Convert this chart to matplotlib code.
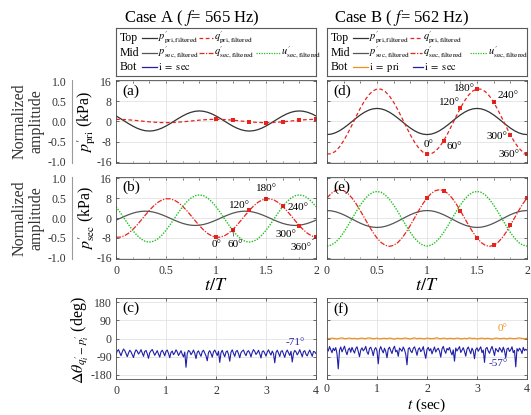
import numpy as np
import matplotlib
matplotlib.use("Agg")
import matplotlib.pyplot as plt

plt.rcParams.update({
    "font.family": "Liberation Serif",
    "mathtext.fontset": "stix",
    "axes.unicode_minus": False,
    "font.size": 8.5,
})

# ---- phase-resolved signals (kPa / scaled u'), t/T = 0..2 in steps of 1/24 ----
t_cyc = np.linspace(0, 2, 49)

p_pri_A = [2.2, 1.24, 0.2, -0.84, -1.8, -2.63, -3.26, -3.66, -3.8, -3.66, -3.26, -2.63,
           -1.8, -0.84, 0.2, 1.24, 2.2, 3.03, 3.66, 4.06, 4.2, 4.06, 3.66, 3.03,
           2.2, 1.24, 0.2, -0.84, -1.8, -2.63, -3.26, -3.66, -3.8, -3.66, -3.26, -2.63,
           -1.8, -0.84, 0.2, 1.24, 2.2, 3.03, 3.66, 4.06, 4.2, 4.06, 3.66, 3.03, 2.2]
q_pri_A = [0.85, 0.83, 0.76, 0.66, 0.53, 0.37, 0.2, 0.03, -0.13, -0.26, -0.36, -0.43,
           -0.45, -0.43, -0.36, -0.26, -0.13, 0.03, 0.2, 0.37, 0.53, 0.66, 0.76, 0.83,
           0.85, 0.83, 0.76, 0.66, 0.53, 0.37, 0.2, 0.03, -0.13, -0.26, -0.36, -0.43,
           -0.45, -0.43, -0.36, -0.26, -0.13, 0.03, 0.2, 0.37, 0.53, 0.66, 0.76, 0.83, 0.85]
p_sec_A = [-0.87, -0.12, 0.63, 1.32, 1.92, 2.37, 2.66,
           2.76, 2.66, 2.37, 1.92, 1.32, 0.63, -0.12, -0.87, -1.56, -2.16, -2.61, -2.9,
           -3.0, -2.9, -2.61, -2.16, -1.56, -0.87, -0.12, 0.63, 1.32, 1.92, 2.37, 2.66,
           2.76, 2.66, 2.37, 1.92, 1.32, 0.63, -0.12, -0.87, -1.56, -2.16, -2.61, -2.9,
           -3.0, -2.9, -2.61, -2.16, -1.56, -0.87]
q_sec_A = [-7.74, -7.72, -7.18, -6.15, -4.69, -2.92, -0.95, 1.09, 3.05, 4.8, 6.23, 7.23,
           7.74, 7.72, 7.18, 6.15, 4.69, 2.92, 0.95, -1.09, -3.05, -4.8, -6.23, -7.23,
           -7.74, -7.72, -7.18, -6.15, -4.69, -2.92, -0.95, 1.09, 3.05, 4.8, 6.23, 7.23,
           7.74, 7.72, 7.18, 6.15, 4.69, 2.92, 0.95, -1.09, -3.05, -4.8, -6.23, -7.23, -7.74]
u_sec_A = [4.55, 2.26, -0.2, -2.66, -4.95, -6.92, -8.43, -9.38, -9.7, -9.38, -8.43, -6.92,
           -4.95, -2.66, -0.2, 2.26, 4.55, 6.52, 8.03, 8.98,
           9.3, 8.98, 8.03, 6.52, 4.55, 2.26, -0.2, -2.66, -4.95, -6.92, -8.43, -9.38,
           -9.7, -9.38, -8.43, -6.92, -4.95, -2.66, -0.2, 2.26, 4.55, 6.52, 8.03, 8.98,
           9.3, 8.98, 8.03, 6.52, 4.55]

p_pri_B = [-5.2, -5.02, -4.5, -3.68, -2.6, -1.35, 0, 1.35, 2.6, 3.68, 4.5, 5.02,
           5.2, 5.02, 4.5, 3.68, 2.6, 1.35, 0, -1.35, -2.6, -3.68, -4.5, -5.02,
           -5.2, -5.02, -4.5, -3.68, -2.6, -1.35, 0, 1.35, 2.6, 3.68, 4.5, 5.02,
           5.2, 5.02, 4.5, 3.68, 2.6, 1.35, 0, -1.35, -2.6, -3.68, -4.5, -5.02, -5.2]
q_pri_B = [-12.93, -12.84, -11.88, -10.1, -7.64, -4.66, -1.36, 2.03, 5.29, 8.18, 10.52, 12.14,
           12.93, 12.84, 11.88, 10.1, 7.64, 4.66, 1.36, -2.03, -5.29, -8.18, -10.52, -12.14,
           -12.93, -12.84, -11.88, -10.1, -7.64, -4.66, -1.36, 2.03, 5.29, 8.18, 10.52, 12.14,
           12.93, 12.84, 11.88, 10.1, 7.64, 4.66, 1.36, -2.03, -5.29, -8.18, -10.52, -12.14, -12.93]
p_sec_B = [3.0, 2.88, 2.54, 2.0, 1.3, 0.48, -0.4, -1.28, -2.1, -2.8, -3.34, -3.68,
           -3.8, -3.68, -3.34, -2.8, -2.1, -1.28, -0.4, 0.48, 1.3, 2.0, 2.54, 2.88,
           3.0, 2.88, 2.54, 2.0, 1.3, 0.48, -0.4, -1.28, -2.1, -2.8, -3.34, -3.68,
           -3.8, -3.68, -3.34, -2.8, -2.1, -1.28, -0.4, 0.48, 1.3, 2.0, 2.54, 2.88, 3.0]
q_sec_B = [8.06, 9.87, 11.01,
           11.4, 11.01, 9.87, 8.06, 5.7, 2.95, 0, -2.95, -5.7, -8.06, -9.87, -11.01,
           -11.4, -11.01, -9.87, -8.06, -5.7, -2.95, 0, 2.95, 5.7, 8.06, 9.87, 11.01,
           11.4, 11.01, 9.87, 8.06, 5.7, 2.95, 0, -2.95, -5.7, -8.06, -9.87, -11.01,
           -11.4, -11.01, -9.87, -8.06, -5.7, -2.95, 0, 2.95, 5.7, 8.06]
u_sec_B = [-11.3, -10.93, -9.83, -8.08, -5.8, -3.15, -0.3, 2.55, 5.2, 7.48, 9.23, 10.33,
           10.7, 10.33, 9.23, 7.48, 5.2, 2.55, -0.3, -3.15, -5.8, -8.08, -9.83, -10.93,
           -11.3, -10.93, -9.83, -8.08, -5.8, -3.15, -0.3, 2.55, 5.2, 7.48, 9.23, 10.33,
           10.7, 10.33, 9.23, 7.48, 5.2, 2.55, -0.3, -3.15, -5.8, -8.08, -9.83, -10.93, -11.3]

marker_idx = list(range(24, 49, 4))  # 0..360 deg over the second cycle
angle_labels = ["0°", "60°", "120°", "180°", "240°", "300°", "360°"]

# ---- phase difference time series (deg), t = 0..4 s ----
t_sec = np.linspace(0, 4, 161)
dtheta_sec_A = [-78, -62, -55, -70, -85, -66, -52, -60, -74, -90,
                -72, -58, -66, -80, -94, -70, -56, -63, -77, -68,
                -55, -72, -88, -64, -59, -75, -98, -70, -61, -54,
                -68, -83, -72, -60, -77, -92, -66, -58, -70, -86,
                -63, -57, -74, -95, -69, -62, -80, -71, -56, -66,
                -84, -73, -60, -78, -91, -67, -142, -75, -59, -64,
                -80, -70, -57, -73, -99, -68, -61, -76, -88, -65,
                -58, -72, -86, -110, -69, -60, -74, -92, -66, -57,
                -71, -84, -63, -118, -70, -58, -76, -90, -67, -61,
                -79, -112, -68, -56, -73, -88, -64, -59, -75, -95,
                -70, -62, -57, -74, -85, -66, -60, -72, -91, -68,
                -55, -64, -79, -70, -58, -76, -96, -65, -61, -73,
                -87, -67, -56, -70, -82, -62, -75, -120, -69, -58,
                -72, -89, -64, -60, -77, -93, -68, -57, -71, -84,
                -63, -116, -74, -59, -66, -81, -70, -55, -73, -90,
                -65, -60, -78, -86, -69, -57, -72, -88, -64, -66, -75]
dtheta_sec_B = [-50, -62, -40, -55, -70, -48, -60, -45, -75, -150,
                -58, -42, -66, -52, -38, -63, -80, -55, -47, -68,
                -44, -59, -72, -50, -41, -64, -90, -57, -46, -61,
                -53, -39, -67, -78, -49, -43, -60, -85, -54, -45,
                -62, -125, -56, -40, -58, -71, -48, -64, -95, -52,
                -43, -60, -74, -50, -38, -66, -58, -88, -47, -55,
                -63, -42, -56, -78, -130, -51, -45, -62, -70, -49,
                -41, -59, -83, -53, -46, -65, -57, -40, -72, -98,
                -54, -44, -61, -50, -76, -58, -42, -67, -55, -48,
                -63, -92, -52, -39, -60, -73, -49, -57, -44, -66,
                -81, -56, -112, -47, -62, -51, -40, -69, -58, -45,
                -64, -87, -53, -42, -59, -75, -48, -61, -100, -55,
                -46, -63, -52, -41, -70, -57, -118, -50, -44, -62,
                -73, -54, -39, -60, -84, -49, -58, -66, -45, -55,
                -68, -43, -61, -95, -52, -47, -64, -56, -41, -70,
                -59, -140, -50, -62, -48, -57, -74, -44, -60, -53, -58]
t_pri = np.linspace(0, 4, 81)
dtheta_pri_B = [1, -1, 2, 0, -2, 1, 3, -1, 0, 2,
                -1, 1, -2, 0, 2, -1, 1, 3, 0, -1,
                2, -2, 0, 1, -1, 2, 0, -3, 1, 0,
                -1, 2, 1, -2, 0, 3, -1, 1, 0, -2,
                2, 0, -1, 1, 3, -1, 0, 2, -2, 1,
                0, -1, 2, 0, -2, 1, -1, 3, 0, 1,
                -2, 0, 2, -1, 1, 0, -3, 1, 2, -1,
                0, 1, -2, 2, 0, -1, 1, 3, 0, -1, 1]

C_BLK = "#333333"
C_GRY = "#555555"
C_RED = "#e8231d"
C_GRN = "#20c020"
C_BLU = "#1f1fa8"
C_ORG = "#f0901e"
LS_DASH = (0, (3, 2))
LS_DDOT = (0, (4, 1.2, 1, 1.2))
LS_DOT = (0, (1, 1))

W, H = 531, 415
fig = plt.figure(figsize=(W / 100, H / 100), dpi=100)


def px_axes(l, t, r, b):
    return fig.add_axes([l / W, 1 - b / H, (r - l) / W, (b - t) / H])


def style(ax, xlim, ylim, xticks, yticks, xlab=True, ylab=True, minor=None):
    ax.set_xlim(*xlim)
    ax.set_ylim(*ylim)
    ax.set_xticks(xticks)
    ax.set_yticks(yticks)
    if minor is not None:
        ax.set_xticks(minor, minor=True)
    if not xlab:
        ax.set_xticklabels([])
    if not ylab:
        ax.set_yticklabels([])
    ax.tick_params(which="both", direction="in", top=True, right=True,
                   length=2.5, width=0.5, colors="#333333", labelsize=8.5)
    ax.tick_params(which="minor", length=1.8)
    ax.tick_params(axis="x", pad=4.5)
    ax.tick_params(axis="y", pad=3)
    ax.grid(True, which="major", color="#dddddd", lw=0.5)
    ax.set_axisbelow(True)
    for s in ax.spines.values():
        s.set_color("#4d4d4d")
        s.set_linewidth(0.6)


def norm_axis(t, b):
    ax = fig.add_axes([72 / W, 1 - b / H, 0.0005, (b - t) / H])
    ax.set_ylim(-1.03, 1.03)
    ax.set_yticks([1, 0.5, 0, -0.5, -1])
    ax.set_yticklabels(["1.0", "0.5", "0.0", "-0.5", "-1.0"])
    ax.set_xticks([])
    for k in ["top", "right", "bottom"]:
        ax.spines[k].set_visible(False)
    ax.spines["left"].set_color("#9a9a9a")
    ax.spines["left"].set_linewidth(0.8)
    ax.tick_params(axis="y", length=0, pad=4, labelsize=8.5, colors="#333333")
    fig.text(28 / W, 1 - (t + b) / 2 / H, "Normalized\namplitude", rotation=90,
             ha="center", va="center", fontsize=11.5, linespacing=1.05, color="#333333")


def legend_box(l, entries):
    ax = px_axes(l, 28, l + 200, 76)
    ax.set_xlim(0, 200)
    ax.set_ylim(48, 0)
    ax.set_xticks([])
    ax.set_yticks([])
    for s in ax.spines.values():
        s.set_color("#5a5a5a")
        s.set_linewidth(0.8)
    for row, (name, items) in zip([10, 25, 39], entries):
        ax.text(4, row, name, ha="left", va="center", fontsize=8.5)
        for x0, x1, col, ls, lab in items:
            ax.plot([x0, x1], [row, row], color=col, ls=ls, lw=0.9)
            ax.text(x1 + 1, row, lab, ha="left", va="center", fontsize=7.5)


def angle_notes(ax, y, notes):
    for i, (lab, (tx, ty, lead)) in enumerate(zip(angle_labels, notes)):
        k = marker_idx[i]
        if lead:
            ax.annotate(lab, xy=(t_cyc[k], y[k]), xytext=(tx, ty), ha="center", va="center",
                        fontsize=8, arrowprops=dict(arrowstyle="-", lw=0.5, color="#333333",
                                                    shrinkA=1, shrinkB=0))
        else:
            ax.text(tx, ty, lab, ha="center", va="center", fontsize=8)


def marks(ax, y):
    ax.plot(t_cyc[marker_idx], np.array(y)[marker_idx], "s", color=C_RED, ms=2.2, mew=0)


# ---- titles & legends ----
fig.text(192 / W, 1 - 18 / H, r"Case A ( $f$= 565 Hz)", ha="center", va="center", fontsize=12)
fig.text(401 / W, 1 - 18 / H, r"Case B ( $f$= 562 Hz)", ha="center", va="center", fontsize=12)

pl = r"$p^{\prime}_{\rm pri,filtered}$"
ql = r"$q^{\prime}_{\rm pri,filtered}$"
ps = r"$p^{\prime}_{\rm sec,filtered}$"
qs = r"$q^{\prime}_{\rm sec,filtered}$"
us = r"$u^{\prime}_{\rm sec,filtered}$"
legend_box(116, [("Top", [(26, 41, C_BLK, "-", pl), (83, 97, C_RED, LS_DASH, ql)]),
                 ("Mid", [(26, 41, C_GRY, "-", ps), (83, 97, C_RED, LS_DDOT, qs),
                          (140, 164, C_GRN, LS_DOT, us)]),
                 ("Bot", [(26, 41, C_BLU, "-", r"$\rm i\ =\ sec$")])])
legend_box(327, [("Top", [(26, 41, C_BLK, "-", pl), (83, 95, C_RED, LS_DASH, ql)]),
                 ("Mid", [(26, 41, C_GRY, "-", ps), (83, 95, C_RED, LS_DDOT, qs),
                          (143, 160, C_GRN, LS_DOT, us)]),
                 ("Bot", [(26, 41, C_ORG, "-", r"$\rm i\ =\ pri$"),
                          (86, 96, C_BLU, "-", r"$\rm i\ =\ sec$")])])

ticks_c = [0, 0.5, 1, 1.5, 2]
minor_c = np.linspace(0, 2, 13)
kpa = [16, 8, 0, -8, -16]
klim = (-16.5, 16.5)

# ---- (a) ----
ax = px_axes(116, 80, 316, 163)
style(ax, (0, 2), klim, ticks_c, kpa, xlab=False, minor=minor_c)
ax.plot(t_cyc, p_pri_A, color=C_BLK, lw=0.9)
ax.plot(t_cyc, q_pri_A, color=C_RED, lw=0.9, ls=LS_DASH)
marks(ax, q_pri_A)
ax.text(0.03, 0.87, "(a)", transform=ax.transAxes, fontsize=11, va="center")
norm_axis(80, 163)
fig.text(87 / W, 1 - 121.5 / H, r"$p^{\prime}_{\rm pri}$ (kPa)", rotation=90, ha="center",
         va="center", fontsize=11.5)

# ---- (d) ----
ax = px_axes(327, 80, 527, 163)
style(ax, (0, 2), klim, ticks_c, kpa, xlab=False, ylab=False, minor=minor_c)
ax.plot(t_cyc, p_pri_B, color=C_BLK, lw=0.9)
ax.plot(t_cyc, q_pri_B, color=C_RED, lw=0.9, ls=LS_DASH)
marks(ax, q_pri_B)
ax.text(0.03, 0.87, "(d)", transform=ax.transAxes, fontsize=11, va="center")
angle_notes(ax, q_pri_B, [(1.02, -9.1, False), (1.27, -9.9, False), (1.225, 7.7, False),
                          (1.37, 13.1, False), (1.81, 10.4, True), (1.70, -6.0, False),
                          (1.82, -13.0, True)])

# ---- (b) ----
ax = px_axes(116, 177, 316, 259)
style(ax, (0, 2), klim, ticks_c, kpa, minor=minor_c)
ax.set_xticklabels(["0", "0.5", "1", "1.5", "2"])
ax.plot(t_cyc, p_sec_A, color=C_GRY, lw=0.9)
ax.plot(t_cyc, q_sec_A, color=C_RED, lw=0.9, ls=LS_DDOT)
ax.plot(t_cyc, u_sec_A, color=C_GRN, lw=1.0, ls=LS_DOT)
marks(ax, q_sec_A)
ax.text(0.03, 0.87, "(b)", transform=ax.transAxes, fontsize=11, va="center")
angle_notes(ax, q_sec_A, [(1.01, -10.8, False), (1.19, -10.8, True), (1.23, 5.2, False),
                          (1.50, 11.8, True), (1.82, 4.4, True), (1.70, -6.5, False),
                          (1.85, -12.0, True)])
norm_axis(177, 259)
fig.text(87 / W, 1 - 218 / H, r"$p^{\prime}_{\rm sec}$ (kPa)", rotation=90, ha="center",
         va="center", fontsize=11.5)
fig.text(216 / W, 1 - 285 / H, r"$t/T$", ha="center", va="center", fontsize=13)

# ---- (e) ----
ax = px_axes(327, 177, 527, 259)
style(ax, (0, 2), klim, ticks_c, kpa, ylab=False, minor=minor_c)
ax.set_xticklabels(["0", "0.5", "1", "1.5", "2"])
ax.plot(t_cyc, p_sec_B, color=C_GRY, lw=0.9)
ax.plot(t_cyc, q_sec_B, color=C_RED, lw=0.9, ls=LS_DDOT)
ax.plot(t_cyc, u_sec_B, color=C_GRN, lw=1.0, ls=LS_DOT)
marks(ax, q_sec_B)
ax.text(0.03, 0.87, "(e)", transform=ax.transAxes, fontsize=11, va="center")
fig.text(427 / W, 1 - 286 / H, r"$t/T$", ha="center", va="center", fontsize=13)

# ---- (c) ----
deg = [180, 90, 0, -90, -180]
ax = px_axes(116, 298, 316, 379)
style(ax, (0, 4), (-200, 200), [0, 1, 2, 3, 4], deg)
ax.plot(t_sec, dtheta_sec_A, color=C_BLU, lw=0.8)
ax.text(3.58, -22, "-71°", color=C_BLU, ha="center", va="center", fontsize=8)
ax.text(0.03, 0.87, "(c)", transform=ax.transAxes, fontsize=11, va="center")
fig.text(80 / W, 1 - 340 / H, r"$\Delta\theta_{q^{\prime}_i - p^{\prime}_i}$ (deg)",
         rotation=90, ha="center", va="center", fontsize=11.5)

# ---- (f) ----
ax = px_axes(327, 298, 527, 379)
style(ax, (0, 4), (-200, 200), [0, 1, 2, 3, 4], deg, ylab=False)
ax.tick_params(axis="x", pad=3)
ax.plot(t_pri, dtheta_pri_B, color=C_ORG, lw=0.9)
ax.plot(t_sec, dtheta_sec_B, color=C_BLU, lw=0.8)
ax.text(3.52, 47, "0°", color=C_ORG, ha="center", va="center", fontsize=8)
ax.text(3.42, -121, "-57°", color=C_BLU, ha="center", va="center", fontsize=8)
ax.text(0.03, 0.87, "(f)", transform=ax.transAxes, fontsize=11, va="center")
fig.text(427 / W, 1 - 405 / H, r"$t$ (sec)", ha="center", va="center", fontsize=11)

fig.savefig("out.png", dpi=100)
